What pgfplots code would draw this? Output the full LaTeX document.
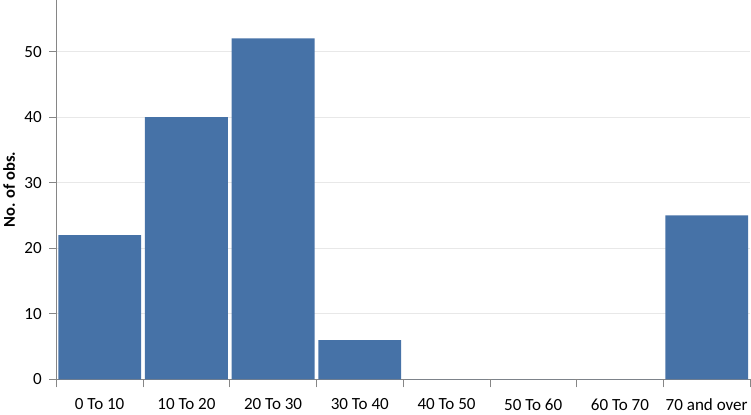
\documentclass[border=0pt]{standalone}
\usepackage{pgfplots}
\pgfplotsset{compat=1.18}
\usepackage{fontspec}
\setmainfont{Carlito}
\definecolor{barblue}{RGB}{70,114,167}
\definecolor{axgray}{RGB}{134,134,134}
\begin{document}
\begin{tikzpicture}
\begin{axis}[
  scale only axis,
  width=692pt, height=378pt,
  xmin=0, xmax=8, ymin=0, ymax=57.8,
  axis x line*=bottom, axis y line*=left,
  axis line style={axgray, line width=0.8pt},
  xtick={0.5,1.5,...,7.5},
  xticklabels={0 To 10,10 To 20,20 To 30,30 To 40,40 To 50,50 To 60,60 To 70,70 and over},
  minor xtick={0,1,...,8},
  major x tick style={draw=none},
  minor x tick style={axgray, line width=0.8pt},
  ytick={0,10,...,50},
  ytick style={axgray, line width=0.8pt},
  tick align=outside,
  major tick length=7pt, minor tick length=8pt,
  ymajorgrids, grid style={gray!18, line width=0.8pt},
  every tick label/.append style={font=\fontsize{17}{20}\selectfont, black},
  xticklabel style={yshift=-9pt},
  yticklabel style={xshift=-4pt},
  /pgf/number format/assume math mode=true,
  ylabel={No. of obs.},
  ylabel style={font=\fontsize{16.5}{19}\selectfont\bfseries, at={(rel axis cs:0,0.5)}, anchor=center, yshift=47pt},
]
\addplot[ybar, bar width=0.955, fill=barblue, draw=none] coordinates {
(0.5,22) (1.5,40) (2.5,52) (3.5,6) (4.5,0) (5.5,0) (6.5,0) (7.5,25)};
\end{axis}
\end{tikzpicture}
\end{document}
